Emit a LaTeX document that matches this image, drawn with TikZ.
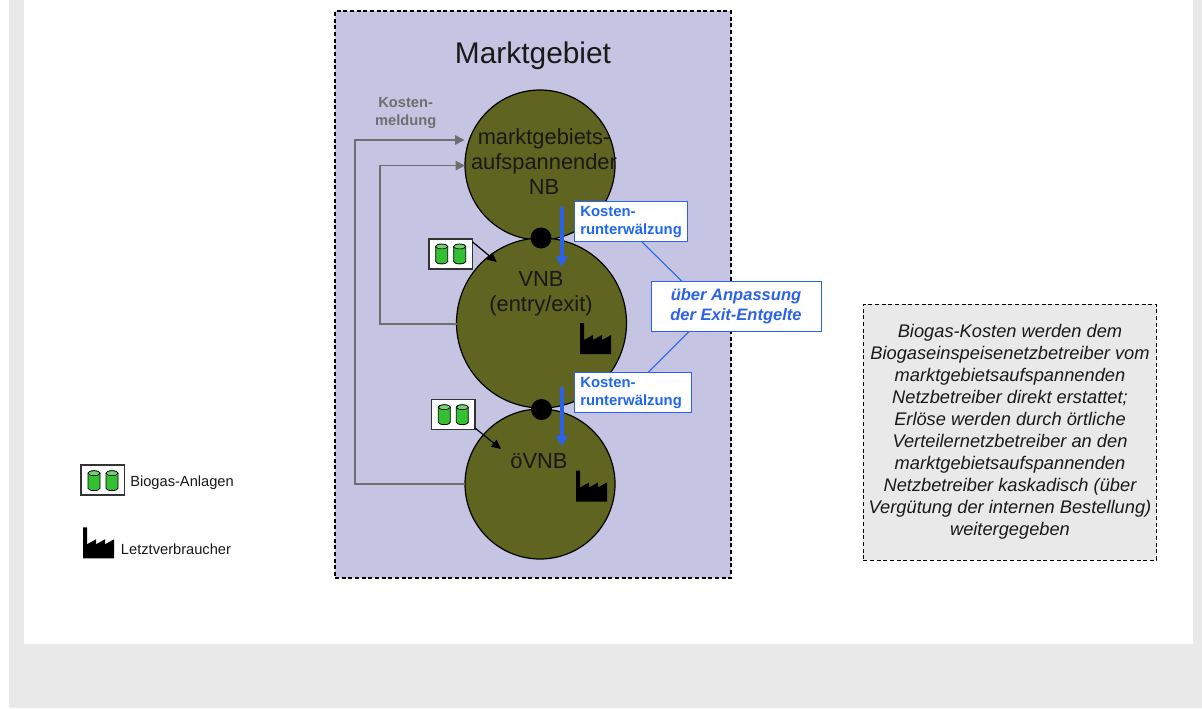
\documentclass[tikz,border=0pt]{standalone}
\usepackage{fontspec}
\setmainfont{Liberation Sans}
\usetikzlibrary{arrows.meta,calc}
\definecolor{pagegray}{HTML}{E9E9E9}
\definecolor{marketfill}{HTML}{C5C5E3}
\definecolor{olivefill}{HTML}{5F6420}
\definecolor{bluetxt}{HTML}{1F66F0}
\definecolor{blueline}{HTML}{2B62E8}
\definecolor{graytxt}{HTML}{6E6E6E}
\definecolor{cylgreen}{HTML}{33C033}
\tikzset{
  x=0.75pt,y=-0.75pt,
  dashbox/.style={draw=black,densely dashed,line width=0.8pt,dash pattern=on 3pt off 2pt},
  netz/.style={circle,draw=black,fill=olivefill,line width=0.9pt,inner sep=0pt},
  knot/.style={circle,fill=black,inner sep=0pt,minimum size=15.75pt},
  circletxt/.style={font=\fontsize{16.4pt}{18.75pt}\selectfont,align=center,inner sep=0pt,text=black!90},
  bluebox/.style={draw=blueline,fill=white,line width=1.1pt,inner sep=0pt,minimum width=85pt,minimum height=30pt},
  bluelabel/.style={font=\fontsize{11.15pt}{13.7pt}\selectfont\bfseries,text=bluetxt,align=left,inner sep=0pt},
  meldung/.style={draw=graytxt,line width=1.1pt,-{Triangle[length=7pt,width=7pt]}},
  bluedown/.style={draw=blueline,line width=3pt,-{Triangle[length=8pt,width=8.5pt]}},
  leader/.style={draw=blueline,line width=0.8pt},
  blackarrow/.style={draw=black,line width=0.9pt,-{Triangle[length=7pt,width=6.5pt]}},
  biobox/.style={draw=black!80,fill=white,line width=0.9pt,inner sep=0pt,minimum width=32.5pt,minimum height=22.5pt},
  smalltxt/.style={font=\fontsize{11pt}{13pt}\selectfont,inner sep=0pt,text=black!90},
}
% cylinders centred at (#1,#2)
\newcommand{\cylpair}[2]{%
  \foreach \dx in {-9,9}{%
    \filldraw[fill=cylgreen,draw=black,line width=0.6pt]
      ($(#1,#2)+(\dx-6,-7.5)$) -- ($(#1,#2)+(\dx-6,7.5)$)
      arc[start angle=180,end angle=360,x radius=4.5pt,y radius=1.8pt]
      -- ($(#1,#2)+(\dx+6,-7.5)$)
      arc[start angle=0,end angle=180,x radius=4.5pt,y radius=1.8pt] -- cycle;
    \draw[black,line width=0.5pt,fill=cylgreen!70!white] ($(#1,#2)+(\dx,-7.5)$) ellipse[x radius=4.5pt,y radius=1.8pt];
  }}
% factory with top-left (#1,#2)
\newcommand{\factory}[2]{%
  \fill[black] (#1,#2) -- ++(4,0) -- ++(0,17) -- ++(9,-5) -- ++(0,5) -- ++(9,-5) -- ++(0,5) -- ++(9,-5) -- ++(0,19) -- ++(-31,0) -- cycle;}
\begin{document}
\begin{tikzpicture}
\useasboundingbox (0,0) rectangle (1202,708);
\fill[white] (0,0) rectangle (1202,708);
\fill[pagegray] (9,0) rectangle (1202,708);
\fill[white] (24,0) rectangle (1193,644);

\node[dashbox,fill=marketfill,minimum width=297pt,minimum height=425.25pt,inner sep=0pt] (market) at (533,294.5) {};
\node[font=\fontsize{22.4pt}{26pt}\selectfont,text=black!90,inner sep=0pt] (title) at (533,56) {Marktgebiet};

% leaders behind
\node[bluebox,minimum width=127.5pt,minimum height=37.5pt] (anpass) at (736.3,306.3) {};
\node[bluebox] (kr1) at (631,221.7) {};
\node[bluebox,minimum width=88pt] (kr2) at (633,392.7) {};
\coordinate (l1a) at (641.7,241.7);
\coordinate (l1b) at (681.7,281);
\coordinate (l2a) at (689,331.7);
\coordinate (l2b) at (648,372.7);
\draw[leader] (l1a) -- (l1b);
\draw[leader] (l2a) -- (l2b);

% circles
\node[netz,minimum size=112.5pt] (nb) at (540,165) {};
\node[netz,minimum size=127.5pt] (vnb) at (541.5,323) {};
\node[netz,minimum size=112.5pt] (ovnb) at (540,484) {};
\node[knot] (k1) at (541,238) {};
\node[knot] (k2) at (541.5,409.5) {};

% redraw boxes over circles
\node[bluebox,minimum width=127.5pt,minimum height=37.5pt] at (anpass) {};
\node[bluebox] at (kr1) {};
\node[bluebox,minimum width=88pt] at (kr2) {};

\node[circletxt] (nbt) at (544,162) {marktgebiets-\\aufspannender\\NB};
\node[circletxt] (vnbt) at (541,294) {VNB\\(entry/exit)};
\node[circletxt] (ovnbt) at (539,461.5) {öVNB};

% gray connectors
\node[font=\fontsize{11pt}{13.5pt}\selectfont\bfseries,text=graytxt,align=center,inner sep=0pt] (km) at (405.7,113) {Kosten-\\meldung};
\coordinate (t1) at (464.5,140);
\coordinate (t2) at (465,165.6);
\coordinate (s1) at (465,484);
\coordinate (s2) at (456.5,324);
\draw[meldung] (s1) -- (355,484) -- (355,140) -- (t1);
\draw[meldung] (s2) -- (380,324) -- (380,165.6) -- (t2);

% blue arrows
\coordinate (a1s) at (561.7,207);
\coordinate (a1e) at (561.7,267);
\coordinate (a2s) at (561.7,386.7);
\coordinate (a2e) at (561.7,446.3);
\draw[bluedown] (a1s) -- (a1e);
\draw[bluedown] (a2s) -- (a2e);

\node[bluelabel,anchor=west] (kr1t) at (580,222) {Kosten-\\runterwälzung};
\node[bluelabel,anchor=west] (kr2t) at (580,393) {Kosten-\\runterwälzung};
\node[font=\fontsize{12.4pt}{15pt}\selectfont\bfseries\itshape,text=blueline,align=center,inner sep=0pt] (anpasst) at (736,306.3) {über Anpassung\\der Exit-Entgelte};

% biogas
\node[biobox] (b1) at (450.7,254) {};
\cylpair{450.7}{254}
\node[biobox] (b2) at (453.3,414.7) {};
\cylpair{453.3}{414.7}
\coordinate (b1e) at (496.7,262);
\coordinate (b2e) at (501,449);
\draw[blackarrow] (472.3,241.7) -- (b1e);
\draw[blackarrow] (475,428) -- (b2e);

% factories
\factory{580}{323}
\factory{576}{470.5}

% legend
\node[biobox] (b3) at (102.7,480) {};
\cylpair{103}{480.7}
\node[smalltxt,anchor=west] (lb) at (130,482.7) {Biogas-Anlagen};
\factory{83}{527.3}
\node[smalltxt,anchor=west] (lv) at (120.7,549) {Letztverbraucher};

% note
\node[dashbox,fill=pagegray,minimum width=220pt,minimum height=191.75pt,inner sep=0pt,
  font=\fontsize{13.7pt}{16.5pt}\selectfont\itshape,align=center,text=black!90] (note) at (1010,432.2)
{Biogas-Kosten werden dem\\Biogaseinspeisenetzbetreiber vom\\marktgebietsaufspannenden\\Netzbetreiber direkt erstattet;\\Erlöse werden durch örtliche\\Verteilernetzbetreiber an den\\marktgebietsaufspannenden\\Netzbetreiber kaskadisch (über\\Vergütung der internen Bestellung)\\weitergegeben};
\end{tikzpicture}
\end{document}
